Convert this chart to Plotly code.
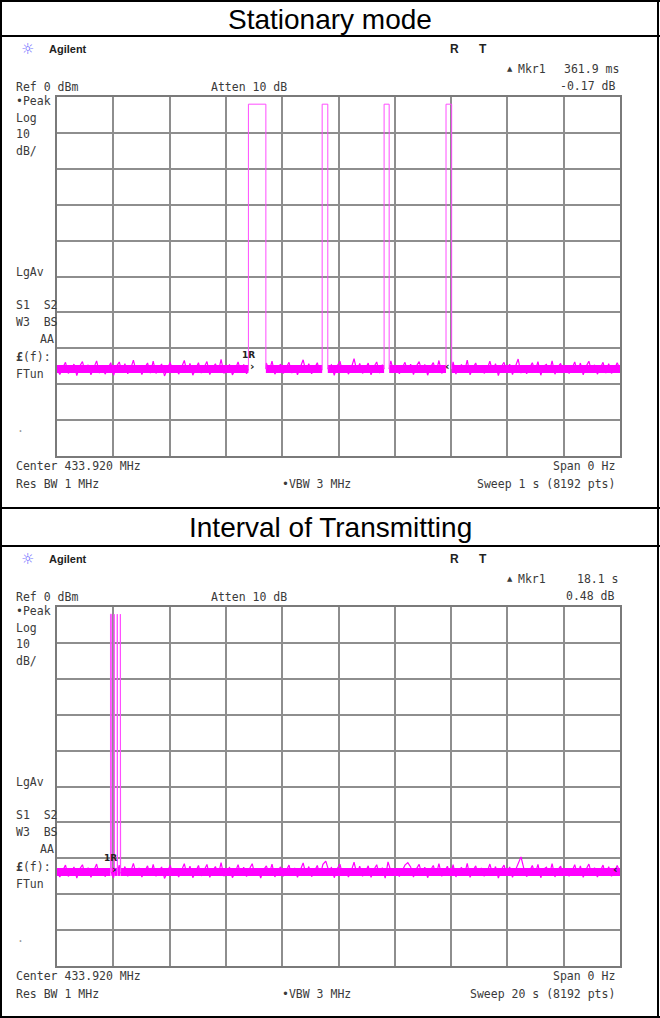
import numpy as np
import plotly.graph_objects as go

W, H = 660, 1018

# ---------------- data ----------------
# Stationary mode (sweep 1 s)
top_sweep_s = 1.0
top_pulse_start = [0.340, 0.471, 0.581, 0.691]
top_pulse_end = [0.371, 0.481, 0.590, 0.701]
top_peak_dbm = -2.0
top_floor_dbm = -75.8
top_marker_delta_s = 0.3619
top_noise = [
    -74.2, -77.3, -75.5, -73.9, -77.0, -76.1, -74.4, -77.6, -75.0, -73.7,
    -76.8, -74.6, -77.4, -75.3, -73.5, -76.9, -74.8, -77.2, -75.6, -74.0,
    -77.5, -75.1, -73.8, -76.7, -74.3, -77.1, -75.8, -73.3, -76.5, -74.7,
    -77.3, -75.4, -74.1, -76.9, -73.6, -77.0, -75.2, -74.5, -77.7, -75.9,
    -73.9, -76.6, -74.9, -77.2, -75.4, -73.4, -76.8, -74.2, -77.5, -75.7,
    -74.0, -76.9, -75.1, -73.7, -77.3, -75.5, -74.3, -76.7, -73.1, -77.0,
    -75.3, -74.6, -77.4, -75.9, -73.8, -76.6, -74.5, -77.1, -75.0, -73.5,
    -76.8, -74.9, -77.6, -75.2, -74.1, -76.4, -73.6, -77.2, -75.6, -74.4,
    -77.0, -75.4, -73.9, -76.9, -74.7, -77.4, -75.1, -73.2, -76.5, -74.3,
    -77.1, -75.7, -74.0, -76.8, -73.7, -77.3, -75.3, -74.6, -77.5, -75.0,
    -73.6, -76.7, -74.8, -77.2, -75.5, -72.9, -76.4, -74.2, -77.0, -75.8,
    -74.1, -77.4, -75.2, -73.8, -76.9, -74.6, -77.6, -75.4, -73.5, -76.6,
    -74.9, -77.1, -75.6, -73.9, -76.8, -74.4, -77.3, -75.0, -73.7, -76.5,
    -74.5, -77.5, -75.3, -74.0, -76.7, -73.4, -77.0, -75.7, -74.2, -76.9,
    -73.8, -77.2, -75.1, -74.6, -76.6, -73.3, -77.4, -75.5, -74.1, -76.8,
    -74.7, -77.0, -75.9, -73.6, -76.5, -74.3, -77.6, -75.2, -73.9, -76.7,
    -74.4, -77.3, -75.4, -73.0, -76.9, -74.8, -77.1, -75.6, -74.0, -76.4,
    -73.7, -77.5, -75.0, -74.5, -76.8, -73.5, -77.2, -75.3, -74.2, -76.6,
    -74.9, -77.0, -75.7, -73.8, -76.7, -74.1, -77.4, -75.1, -73.6, -76.5,
    -74.6, -77.2, -75.5, -73.9, -76.9, -74.3, -77.0, -75.8, -74.0, -76.3,
]

# Interval of transmitting (sweep 20 s)
bot_sweep_s = 20.0
bot_pulse_start = [1.900, 2.031, 2.141, 2.251]
bot_pulse_end = [1.931, 2.041, 2.150, 2.261]
bot_peak_dbm = -2.0
bot_floor_dbm = -73.8
bot_marker_delta_s = 18.1
bot_noise = [
    -72.3, -75.2, -73.5, -71.9, -75.0, -74.1, -72.4, -75.5, -73.0, -71.8,
    -74.8, -72.6, -75.3, -73.3, -71.6, -74.9, -72.8, -75.1, -73.6, -72.0,
    -75.4, -73.1, -71.9, -74.7, -72.3, -75.0, -73.8, -71.4, -74.5, -72.7,
    -75.2, -73.4, -72.1, -74.9, -71.7, -75.0, -73.2, -72.5, -75.6, -73.9,
    -71.9, -74.6, -72.9, -75.2, -73.4, -71.5, -74.8, -72.2, -75.4, -73.7,
    -72.0, -74.9, -73.1, -71.7, -75.3, -73.5, -72.3, -74.7, -71.2, -75.0,
    -73.3, -72.6, -75.4, -73.9, -71.8, -74.6, -72.5, -75.1, -73.0, -71.5,
    -74.8, -72.9, -75.5, -73.2, -72.1, -74.4, -71.6, -75.2, -73.6, -72.4,
    -75.0, -73.4, -71.9, -74.9, -72.7, -75.3, -73.1, -71.3, -74.5, -72.3,
    -75.1, -73.7, -72.0, -74.8, -71.7, -70.8, -73.3, -72.6, -75.4, -73.0,
    -71.6, -74.7, -72.8, -75.2, -73.5, -71.1, -74.4, -72.2, -75.0, -73.8,
    -72.1, -75.3, -73.2, -71.8, -74.9, -72.6, -75.5, -71.0, -73.5, -74.6,
    -72.9, -75.1, -73.6, -71.9, -71.2, -72.4, -75.2, -73.0, -71.7, -74.5,
    -72.5, -75.4, -73.3, -72.0, -74.7, -71.5, -75.0, -73.7, -72.2, -74.9,
    -71.8, -75.2, -73.1, -72.6, -74.6, -71.4, -75.3, -73.5, -72.1, -74.8,
    -72.7, -75.0, -73.9, -71.6, -74.5, -72.3, -75.5, -73.2, -71.9, -74.7,
    -72.4, -75.3, -73.4, -71.0, -69.6, -72.8, -75.1, -73.6, -72.0, -74.4,
    -71.7, -75.4, -73.0, -72.5, -74.8, -71.5, -75.2, -73.3, -72.2, -74.6,
    -72.9, -75.0, -73.7, -71.8, -74.7, -72.1, -75.3, -73.1, -71.6, -74.5,
    -72.6, -75.2, -73.5, -71.9, -74.9, -72.3, -75.0, -73.8, -72.0, -71.8,
]

titles = ["Stationary mode", "Interval of Transmitting"]
title_y_px = [20, 527]
mkr_time_text = ["361.9 ms", "18.1 s"]
mkr_db_text = ["-0.17 dB", "0.48 dB"]
sweep_text = ["Sweep 1 s (8192 pts)", "Sweep 20 s (8192 pts)"]

TRACE = "#ff00ff"
PULSE = "#ff4dff"
GRID = "#8e8e8e"
TXT = "#3a3a3a"


def build_noise(noise, t_end, starts, ends, floor):
    t = np.linspace(0, t_end, len(noise))
    xs, ys = [], []
    bounds = [0.0] + [v for pair in zip(starts, ends) for v in pair] + [t_end]
    for a, b in zip(bounds[0::2], bounds[1::2]):
        seg = [(ti, vi) for ti, vi in zip(t, noise) if a < ti < b]
        xs.append(a); ys.append(floor)
        for ti, vi in seg:
            xs.append(ti); ys.append(vi)
        xs.append(b); ys.append(floor)
        xs.append(None); ys.append(None)
    return xs, ys


def build_band(t_end, starts, ends, floor):
    xs, ys = [], []
    bounds = [0.0] + [v for pair in zip(starts, ends) for v in pair] + [t_end]
    for a, b in zip(bounds[0::2], bounds[1::2]):
        xs += [a, b, None]
        ys += [floor, floor, None]
    return xs, ys


def build_pulses(starts, ends, peak, floor):
    xs, ys = [], []
    for s, e in zip(starts, ends):
        xs += [s, s, e, e, None]
        ys += [floor, peak, peak, floor, None]
    return xs, ys


fig = go.Figure()

panels = [
    dict(noise=top_noise, t_end=top_sweep_s, starts=top_pulse_start, ends=top_pulse_end,
         peak=top_peak_dbm, floor=top_floor_dbm, delta=top_marker_delta_s, xa="x", ya="y"),
    dict(noise=bot_noise, t_end=bot_sweep_s, starts=bot_pulse_start, ends=bot_pulse_end,
         peak=bot_peak_dbm, floor=bot_floor_dbm, delta=bot_marker_delta_s, xa="x2", ya="y2"),
]

for p in panels:
    bx, by = build_band(p["t_end"], p["starts"], p["ends"], p["floor"])
    fig.add_trace(go.Scatter(x=bx, y=by, mode="lines", line=dict(color=TRACE, width=8),
                             xaxis=p["xa"], yaxis=p["ya"], hoverinfo="skip", showlegend=False))
    nx, ny = build_noise(p["noise"], p["t_end"], p["starts"], p["ends"], p["floor"])
    fig.add_trace(go.Scatter(x=nx, y=ny, mode="lines", line=dict(color=TRACE, width=1.2),
                             xaxis=p["xa"], yaxis=p["ya"], hoverinfo="skip", showlegend=False))
    qx, qy = build_pulses(p["starts"], p["ends"], p["peak"], p["floor"])
    fig.add_trace(go.Scatter(x=qx, y=qy, mode="lines", line=dict(color=PULSE, width=1),
                             xaxis=p["xa"], yaxis=p["ya"], hoverinfo="skip", showlegend=False))

# geometry (pixels)
GX0, GX1 = 57, 620
PANEL_OFF = 510
GY0, GY1 = 97, 456


def py(v):
    return 1 - v / H


def px(v):
    return v / W


axis_common = dict(showgrid=True, gridcolor=GRID, gridwidth=1.5, zeroline=False,
                   showticklabels=False, ticks="", showline=True, mirror=True,
                   linecolor="#7a7a7a", linewidth=2, fixedrange=True)

layout = dict(width=W, height=H, margin=dict(l=0, r=0, t=0, b=0),
              paper_bgcolor="white", plot_bgcolor="white", showlegend=False)
for k, p in enumerate(panels):
    sfx = "" if k == 0 else "2"
    off = k * PANEL_OFF
    layout["xaxis" + sfx] = dict(axis_common, range=[0, p["t_end"]], dtick=p["t_end"] / 10, tick0=0,
                                 domain=[px(GX0), px(GX1)], anchor="y" + sfx)
    layout["yaxis" + sfx] = dict(axis_common, range=[-100, 0], dtick=10, tick0=0,
                                 domain=[py(GY1 + off), py(GY0 + off)], anchor="x" + sfx)
fig.update_layout(**layout)

MONO = "DejaVu Sans Mono"
ann = []


def text(t, x, y, anchor="left", size=11.5, family=MONO, color=TXT):
    ann.append(dict(text=t, x=px(x), y=py(y), xref="paper", yref="paper", xanchor=anchor,
                    yanchor="middle", showarrow=False,
                    font=dict(family=family, size=size, color=color)))


for k, p in enumerate(panels):
    o = k * PANEL_OFF
    text(titles[k], 330, title_y_px[k], anchor="center", size=28, family="Liberation Sans", color="black")
    text("☼", 27, 49 + o, anchor="center", size=15, family="DejaVu Sans", color="#6f6cff")
    text("<b>Agilent</b>", 47, 49 + o, size=11, family="Liberation Sans", color="#222")
    text("<b>R</b>", 454, 49 + o, anchor="center", size=12, family="Liberation Sans", color="#222")
    text("<b>T</b>", 483, 49 + o, anchor="center", size=12, family="Liberation Sans", color="#222")
    text("▲", 510, 69 + o, anchor="center", size=7, family="DejaVu Sans")
    text("Mkr1", 516, 69 + o)
    text(mkr_time_text[k], 621, 69 + o, anchor="right")
    text(mkr_db_text[k], 617, 86 + o, anchor="right")
    text("Ref 0 dBm", 14, 87 + o)
    text("Atten 10 dB", 209, 87 + o)
    text("•Peak", 14, 101 + o)
    text("Log", 14, 118 + o)
    text("10", 14, 134 + o)
    text("dB/", 14, 151 + o)
    text("LgAv", 14, 272 + o)
    text("S1  S2", 14, 305 + o)
    text("W3  BS", 14, 322 + o)
    text("AA", 56, 339 + o, anchor="right")
    text("<b>£</b>(f):", 14, 357 + o)
    text("FTun", 14, 374 + o)
    text(".", 15, 428 + o, color="#999")
    text("Center 433.920 MHz", 14, 466 + o)
    text("Span 0 Hz", 617, 466 + o, anchor="right")
    text("Res BW 1 MHz", 14, 484 + o)
    text("•VBW 3 MHz", 280, 484 + o)
    text(sweep_text[k], 617, 484 + o, anchor="right")

# marker labels tied to data positions
for k, p in enumerate(panels):
    xa = "x" if k == 0 else "x2"
    ya = "y" if k == 0 else "y2"
    ref_t = p["starts"][0]
    ann.append(dict(text="<b>1R</b>", x=ref_t, y=p["floor"] + 4.0, xref=xa, yref=ya,
                    showarrow=False, font=dict(family="DejaVu Sans", size=9, color="#222")))
    ann.append(dict(text="<b>›</b>", x=ref_t, y=p["floor"] + 0.6, xref=xa, yref=ya, xanchor="left",
                    showarrow=False, font=dict(family="DejaVu Sans", size=11, color="#222")))
    mt = ref_t + p["delta"]
    ann.append(dict(text="<b>‹</b>", x=mt, y=p["floor"] + 0.6, xref=xa, yref=ya, xanchor="right",
                    showarrow=False, font=dict(family="DejaVu Sans", size=11, color="#222")))

fig.update_layout(annotations=ann)

# table frame
shapes = []
for yv in [1, 36, 508, 546, 1017]:
    shapes.append(dict(type="line", xref="paper", yref="paper", x0=0, x1=1, y0=py(yv), y1=py(yv),
                       line=dict(color="black", width=2)))
for xv in [1, 658]:
    shapes.append(dict(type="line", xref="paper", yref="paper", x0=px(xv), x1=px(xv), y0=0, y1=1,
                       line=dict(color="black", width=2)))
fig.update_layout(shapes=shapes)

fig.write_html("out.html", config={"displayModeBar": False},
               post_script="document.body.style.margin='0';document.body.style.overflow='hidden';")
